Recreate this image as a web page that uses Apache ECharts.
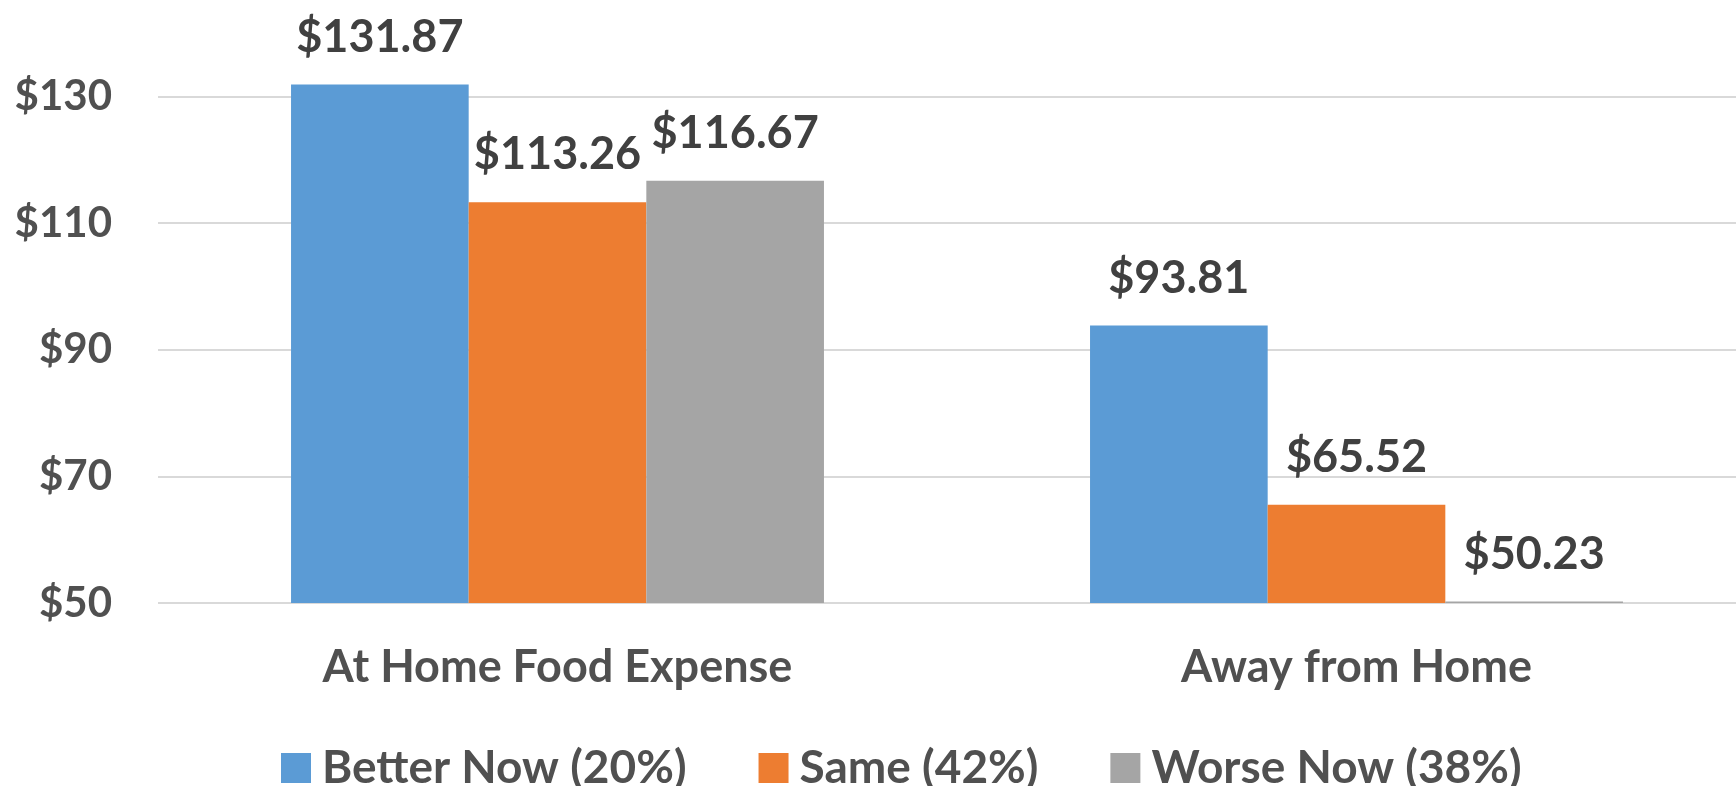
<!DOCTYPE html>
<html>
<head>
    <meta charset="utf-8">
    <title>Food Expense</title>
    <script src="https://cdn.jsdelivr.net/npm/echarts@6/dist/echarts.min.js"></script>
    <style>
        html, body { margin: 0; padding: 0; background: #fff; }
    </style>
</head>
<body>
<div id="main" style="width: 1736px;height:786px;"></div>
<script type="text/javascript">

    var categories = ['At Home Food Expense', 'Away from Home'];
    var seriesNames = ['Better Now (20%)', 'Same (42%)', 'Worse Now (38%)'];
    var betterNow = [131.87, 93.81];
    var same = [113.26, 65.52];
    var worseNow = [116.67, 50.23];
    var colors = ['#5b9bd5', '#ed7d31', '#a5a5a5'];

    var fontName = 'Lato, sans-serif';

    function makeBar(name, values, color) {
        return {
            name: name,
            type: 'bar',
            data: values,
            barGap: 0,
            barCategoryGap: '33.3%',
            itemStyle: { color: color },
            label: {
                show: true,
                position: 'top',
                distance: 25,
                fontFamily: fontName,
                fontSize: 45,
                fontWeight: 'bold',
                color: '#404040',
                formatter: function (p) { return '$' + p.value.toFixed(2); }
            }
        };
    }

    var myChart = echarts.init(document.getElementById('main'));

    // axis runs to 140 so the tallest bar fits; the 140 line and label are hidden
    // the plot runs a little past the right edge, like the cropped original
    var option = {
        animation: false,
        textStyle: { fontFamily: fontName },
        color: colors,
        grid: {
            left: 158,
            right: -20,
            top: 33,
            bottom: 183,
            outerBoundsMode: 'none'
        },
        legend: {
            left: 276,
            top: 740,
            itemWidth: 30,
            itemHeight: 30,
            itemGap: 72,
            icon: 'rect',
            data: seriesNames,
            textStyle: {
                fontFamily: fontName,
                fontSize: 46,
                fontWeight: 'bold',
                color: '#505050',
                padding: [0, 0, 0, 6]
            }
        },
        xAxis: {
            type: 'category',
            data: categories,
            axisLine: { show: false },
            axisTick: { show: false },
            axisLabel: {
                margin: 42,
                fontFamily: fontName,
                fontSize: 45,
                fontWeight: 'bold',
                color: '#505050'
            }
        },
        yAxis: {
            type: 'value',
            min: 50,
            max: 140,
            interval: 20,
            axisLine: { show: false },
            axisTick: { show: false },
            splitLine: {
                showMaxLine: false,
                lineStyle: { color: '#d9d9d9', width: 2 }
            },
            axisLabel: {
                margin: 46,
                showMaxLabel: false,
                fontFamily: fontName,
                fontSize: 42,
                fontWeight: 'bold',
                color: '#505050',
                formatter: function (v) { return '$' + v; }
            }
        },
        series: [
            makeBar(seriesNames[0], betterNow, colors[0]),
            makeBar(seriesNames[1], same, colors[1]),
            makeBar(seriesNames[2], worseNow, colors[2])
        ]
    };

    myChart.setOption(option);

</script>
</body>
</html>
